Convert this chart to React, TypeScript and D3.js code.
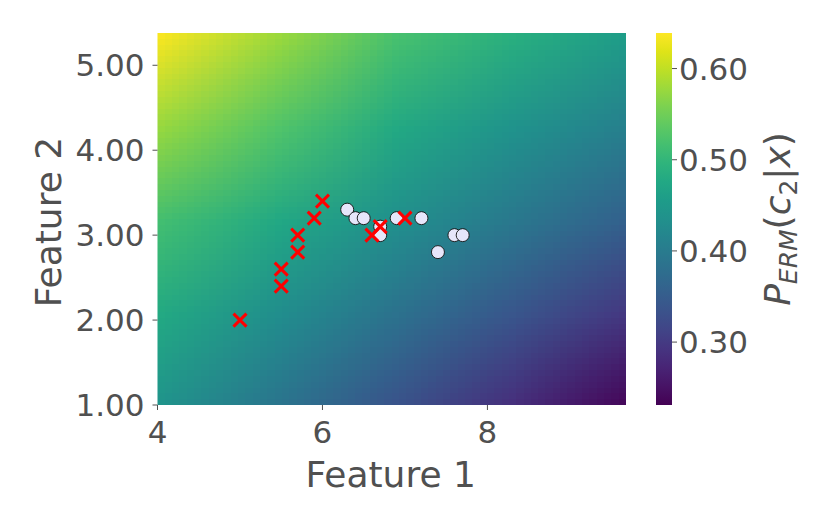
import React, { useMemo } from 'react'
import * as d3 from 'd3'

// probability field, rows from top (y=5.38) to bottom (y=1), columns left (x=4) to right (x=9.68)
const gridX = [4, 5.42, 6.84, 8.26, 9.68]
const gridY = [5.38, 4.285, 3.19, 2.095, 1.0]
const gridP = [
  [0.635, 0.578, 0.52, 0.488, 0.455],
  [0.575, 0.526, 0.478, 0.441, 0.405],
  [0.515, 0.475, 0.435, 0.395, 0.355],
  [0.478, 0.431, 0.385, 0.34, 0.295],
  [0.44, 0.388, 0.335, 0.285, 0.235],
]

// class 1 samples (red crosses)
const crossX = [5.0, 5.5, 5.5, 5.7, 5.7, 5.9, 6.0, 6.6, 6.7, 7.0]
const crossY = [2.0, 2.4, 2.6, 2.8, 3.0, 3.2, 3.4, 3.0, 3.1, 3.2]

// class 2 samples (white circles)
const circleX = [6.3, 6.4, 6.5, 6.7, 6.7, 6.9, 7.2, 7.4, 7.6, 7.7]
const circleY = [3.3, 3.2, 3.2, 3.1, 3.0, 3.2, 3.2, 2.8, 3.0, 3.0]

const xTicks = [4, 6, 8]
const yTicks = [1, 2, 3, 4, 5]
const cbTicks = [0.3, 0.4, 0.5, 0.6]
const pMin = 0.231
const pMax = 0.639

const W = 830
const H = 526
const left = 157.5
const right = 626
const top = 33
const bottom = 405
const cbLeft = 656
const cbWidth = 16
const txt = '#505050'
const font = 'DejaVu Sans, sans-serif'
const tickSize = 31
const labelSize = 36

export default function App() {
  const x = d3.scaleLinear().domain([4, 9.68]).range([left, right])
  const y = d3.scaleLinear().domain([1, 5.38]).range([bottom, top])
  const cb = d3.scaleLinear().domain([pMin, pMax]).range([bottom, top])
  const color = d3.scaleSequential(d3.interpolateViridis).domain([pMin, pMax])

  const heatUrl = useMemo(() => {
    const c = document.createElement('canvas')
    c.width = gridX.length
    c.height = gridY.length
    const ctx = c.getContext('2d')!
    gridP.forEach((row, j) => {
      row.forEach((p, i) => {
        ctx.fillStyle = color(p)
        ctx.fillRect(i, j, 1, 1)
      })
    })
    return c.toDataURL()
  }, [])

  // pixel centres sit on the grid nodes, so the image reaches half a cell past the plot
  const cellW = (x(gridX[gridX.length - 1]) - x(gridX[0])) / (gridX.length - 1)
  const cellH = (y(gridY[gridY.length - 1]) - y(gridY[0])) / (gridY.length - 1)

  const stops = d3.range(0, 1.0001, 0.05)

  return (
    <svg width={W} height={H} style={{ position: 'absolute', left: 0, top: 0, background: '#fff' }} fontFamily={font}>
      <defs>
        <clipPath id="plotClip">
          <rect x={left} y={top} width={right - left} height={bottom - top} />
        </clipPath>
        <linearGradient id="cbGrad" x1="0" y1="1" x2="0" y2="0">
          {stops.map(s => (
            <stop key={s} offset={s} stopColor={d3.interpolateViridis(s)} />
          ))}
        </linearGradient>
      </defs>

      <g clipPath="url(#plotClip)">
        <image
          href={heatUrl}
          x={x(gridX[0]) - cellW / 2}
          y={y(gridY[0]) - cellH / 2}
          width={cellW * gridX.length}
          height={cellH * gridY.length}
          preserveAspectRatio="none"
          style={{ imageRendering: 'auto' }}
        />
      </g>

      {circleX.map((cx, i) => (
        <circle key={'c' + i} cx={x(cx)} cy={y(circleY[i])} r={6.5} fill="#e6e6fa" stroke="#111" strokeWidth={0.9} />
      ))}
      {crossX.map((cx, i) => {
        const px = x(cx)
        const py = y(crossY[i])
        const s = 6.5
        return (
          <path
            key={'x' + i}
            d={`M${px - s},${py - s}L${px + s},${py + s}M${px - s},${py + s}L${px + s},${py - s}`}
            stroke="#ff0000"
            strokeWidth={3}
            fill="none"
          />
        )
      })}

      {xTicks.map(t => (
        <g key={'xt' + t}>
          <line x1={x(t)} x2={x(t)} y1={bottom} y2={bottom + 5} stroke={txt} strokeWidth={1} />
          <text x={x(t)} y={bottom + 38} textAnchor="middle" fontSize={tickSize} fill={txt}>{t}</text>
        </g>
      ))}
      {yTicks.map(t => (
        <g key={'yt' + t}>
          <line x1={left - 5} x2={left} y1={y(t)} y2={y(t)} stroke={txt} strokeWidth={1} />
          <text x={left - 13} y={y(t)} dy="0.36em" textAnchor="end" fontSize={tickSize} fill={txt}>{d3.format('.2f')(t)}</text>
        </g>
      ))}
      <text x={(left + right) / 2 - 1} y={487} textAnchor="middle" fontSize={labelSize} fill={txt}>Feature 1</text>
      <text transform={`translate(61,${(top + bottom) / 2 + 3}) rotate(-90)`} textAnchor="middle" fontSize={labelSize} fill={txt}>Feature 2</text>

      <rect x={cbLeft} y={top} width={cbWidth} height={bottom - top} fill="url(#cbGrad)" />
      {cbTicks.map(t => (
        <g key={'cb' + t}>
          <line x1={cbLeft + cbWidth} x2={cbLeft + cbWidth + 5} y1={cb(t)} y2={cb(t)} stroke={txt} strokeWidth={1} />
          <text x={cbLeft + cbWidth + 7} y={cb(t)} dy="0.36em" fontSize={tickSize} fill={txt}>{d3.format('.2f')(t)}</text>
        </g>
      ))}
      <text transform={`translate(790,${(top + bottom) / 2}) rotate(-90)`} textAnchor="middle" fontSize={labelSize} fill={txt}>
        <tspan fontStyle="italic">P</tspan>
        <tspan fontStyle="italic" fontSize={25} dy={7}>ERM</tspan>
        <tspan dy={-7}>(</tspan>
        <tspan fontStyle="italic">c</tspan>
        <tspan fontSize={25} dy={7}>2</tspan>
        <tspan dy={-7}>|</tspan>
        <tspan fontStyle="italic">x</tspan>
        <tspan>)</tspan>
      </text>
    </svg>
  )
}
